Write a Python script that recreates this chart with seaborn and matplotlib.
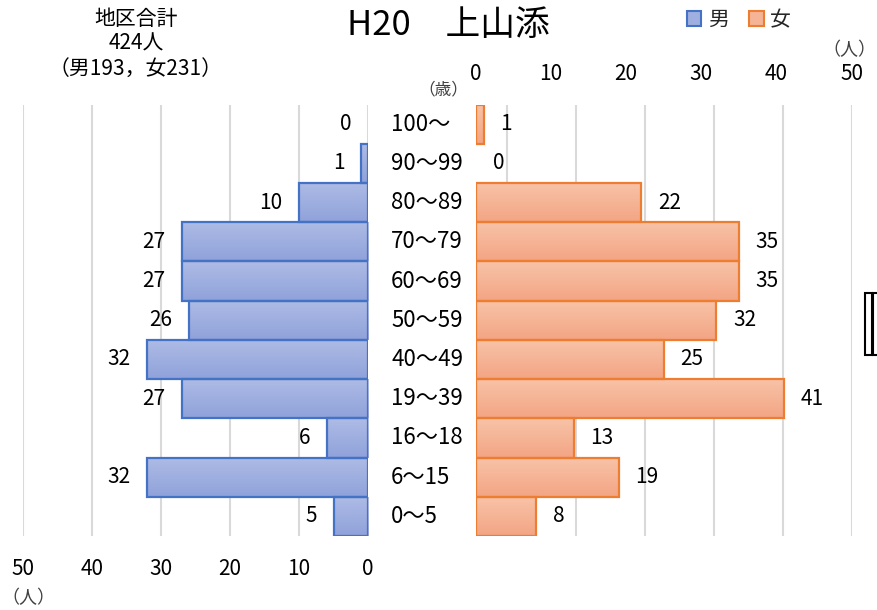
import numpy as np
import pandas as pd
import matplotlib
matplotlib.use('Agg')
import matplotlib.pyplot as plt
import seaborn as sns
from matplotlib.patches import Patch, Rectangle
from matplotlib.transforms import blended_transform_factory
from matplotlib.colors import LinearSegmentedColormap

categories = ['100～', '90～99', '80～89', '70～79', '60～69', '50～59',
              '40～49', '19～39', '16～18', '6～15', '0～5']
male = [0, 1, 10, 27, 27, 26, 32, 27, 6, 32, 5]
female = [1, 0, 22, 35, 35, 32, 25, 41, 13, 19, 8]
tick_values = [0, 10, 20, 30, 40, 50]
title_text = 'H20　上山添'
summary_text = '地区合計\n424人\n（男193，女231）'

sns.set_theme(style='white')
plt.rcParams['font.family'] = ['Noto Sans CJK JP', 'DejaVu Sans']

W, H = 877, 610
fig = plt.figure(figsize=(8.77, 6.10), dpi=100)


def fx(px):
    return px / W


def fy(py):
    return 1 - py / H


TOP, BOT = 104.5, 536
GRID_C = '#D9D9D9'
M_EDGE, F_EDGE = '#4472C4', '#ED7D31'
M_TOP, M_BOT = '#AEBBE5', '#8FA2DA'
F_TOP, F_BOT = '#F8C3A8', '#F3A584'

df = pd.DataFrame({'age': categories, 'male': male, 'female': female})

rectL = [fx(23), fy(BOT), fx(368) - fx(23), (BOT - TOP) / H]
rectR = [fx(476), fy(BOT), fx(851.5) - fx(476), (BOT - TOP) / H]

# grid axes for the right side (grid follows its own spacing)
axG = fig.add_axes(rectR)
axG.set_xlim(-4.5, 50)
axG.set_ylim(0, 1)
axG.set_xticks(tick_values)
axG.set_yticks([])
axG.tick_params(axis='x', length=0, labelbottom=False)
axG.xaxis.grid(True, color=GRID_C, lw=1.5)
for s in axG.spines.values():
    s.set_visible(False)

axL = fig.add_axes(rectL)
axR = fig.add_axes(rectR)
axR.patch.set_alpha(0)

sns.barplot(data=df, x='male', y='age', order=categories, ax=axL, color=M_BOT,
            saturation=1, width=1.0, orient='h')
sns.barplot(data=df, x='female', y='age', order=categories, ax=axR, color=F_BOT,
            saturation=1, width=1.0, orient='h')

axL.set_xlim(50, 0)
axR.set_xlim(0, 50)
for ax in (axL, axR):
    ax.set_ylim(len(categories) - 0.5, -0.5)
    ax.set_xlabel('')
    ax.set_ylabel('')
    ax.set_yticks([])
    for s in ax.spines.values():
        s.set_visible(False)


def grad_bars(ax, ctop, cbot, edge):
    cmap = LinearSegmentedColormap.from_list('g', [ctop, cbot])
    grad = np.linspace(0, 1, 64).reshape(-1, 1)
    xl, yl = ax.get_xlim(), ax.get_ylim()
    for p in list(ax.patches):
        bb = p.get_bbox()
        if abs(bb.x1 - bb.x0) < 1e-9:
            p.set_visible(False)
            continue
        im = ax.imshow(grad, cmap=cmap, aspect='auto', origin='upper',
                       extent=(bb.x0, bb.x1, max(bb.y0, bb.y1), min(bb.y0, bb.y1)),
                       zorder=2, interpolation='bilinear')
        im.set_clip_path(p)
        p.set_facecolor('none')
        p.set_edgecolor(edge)
        p.set_linewidth(1.6)
        p.set_zorder(3)
    ax.set_xlim(xl)
    ax.set_ylim(yl)


grad_bars(axL, M_TOP, M_BOT, M_EDGE)
grad_bars(axR, F_TOP, F_BOT, F_EDGE)

# left grid + bottom ticks
axL.set_xticks(tick_values)
axL.set_xticklabels([str(v) for v in tick_values])
axL.xaxis.grid(True, color=GRID_C, lw=1.5)
axL.set_axisbelow(True)
axL.tick_params(axis='x', length=0, pad=16, labelsize=15, colors='black')

# right top ticks
axR.xaxis.tick_top()
axR.set_xticks(tick_values)
axR.set_xticklabels([str(v) for v in tick_values])
axR.tick_params(axis='x', length=0, pad=14, labelsize=15, colors='black')
axR.xaxis.grid(False)

# value labels
for i, v in enumerate(male):
    axL.annotate(str(v), (v, i), xytext=(-12, 0), textcoords='offset points',
                 ha='right', va='center', fontsize=15, color='black')
for i, v in enumerate(female):
    axR.annotate(str(v), (v, i), xytext=(12, 0), textcoords='offset points',
                 ha='left', va='center', fontsize=15, color='black')

# category labels
tr = blended_transform_factory(fig.transFigure, axL.transData)
for i, c in enumerate(categories):
    axL.text(fx(391), i, c, transform=tr, ha='left', va='center',
             fontsize=16, color='black', clip_on=False)

# titles and notes
fig.text(fx(448), fy(25), title_text, ha='center', va='center', fontsize=25, color='black')
fig.text(fx(136), fy(44), summary_text, ha='center', va='center', fontsize=15,
         color='black', linespacing=1.15)
fig.text(fx(443), fy(90), '（歳）', ha='center', va='center', fontsize=12, color='#404040')
fig.text(fx(876), fy(50), '（人）', ha='right', va='center', fontsize=13, color='#404040')
fig.text(fx(28), fy(598), '（人）', ha='center', va='center', fontsize=13, color='#404040')

handles = [Patch(facecolor='#9EAFE0', edgecolor=M_EDGE, lw=1.5, label='男'),
           Patch(facecolor='#F5B496', edgecolor=F_EDGE, lw=1.5, label='女')]
fig.legend(handles=handles, loc='center', bbox_to_anchor=(fx(739), fy(20)), ncol=2,
           frameon=False, fontsize=15, handlelength=0.7, handleheight=0.7,
           handletextpad=0.3, columnspacing=1.0, borderaxespad=0)

# small double-bar mark on right edge
for x0 in (865, 872.5):
    fig.add_artist(Rectangle((fx(x0), fy(355)), fx(6.5) - fx(0), (355 - 293) / H,
                             transform=fig.transFigure, facecolor='white',
                             edgecolor='black', lw=1.5))

fig.savefig('out.png', dpi=100)
